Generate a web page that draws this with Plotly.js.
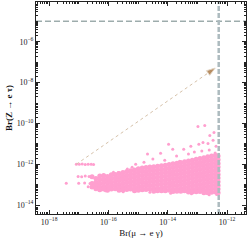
<!DOCTYPE html>
<html><head><meta charset="utf-8">
<script src="https://cdn.plot.ly/plotly-3.0.1.min.js"></script>
<style>html,body{margin:0;padding:0;background:#fff}#c{width:249px;height:241px}</style>
</head><body><div id="c"></div>
<script>
// log10 values
const xTickExp = [-18, -16, -14, -12];
const yTickExp = [-14, -12, -10, -8, -6];
const xRangeExp = [-18.44, -11.36];
const yRangeExp = [-14.44, -4.05];
const zLimitExp = -4.99;      // horizontal dashed limit on Br(Z -> e tau)
const megLimitExp = -12.28;   // vertical dashed limit on Br(mu -> e gamma)
const arrowXExp = [-17.08, -12.40];
const arrowYExp = [-12.00, -7.29];

const sparseX = [-17.08,-16.98,-16.88,-16.78,-16.68,-16.58,-16.50,
  -17.42,-17.02,-16.90,-16.78,-16.65,-17.00,-16.80,-16.62,-16.68,
  -15.83,-15.67,-15.36,-15.08,-15.20,-14.68,-14.24,-13.97,-13.83,-13.46,-13.22,-12.95,-12.81,-12.64,-12.47,-12.37,
  -12.98,-12.75,-12.44,-12.58,-14.50,-14.10,-13.70,-13.30,-13.10,-12.85,-12.60,-12.40,-14.80,-13.60,
  -15.50,-14.60,-13.90,-13.20,-12.60,-12.35,-16.10];
const sparseY = [-12.00,-12.00,-11.99,-12.01,-12.00,-12.00,-12.01,
  -12.93,-12.60,-12.62,-12.58,-12.60,-12.93,-12.92,-12.95,-13.10,
  -12.39,-12.40,-12.24,-12.00,-12.15,-11.50,-11.46,-11.02,-11.27,-11.27,-11.12,-11.02,-10.93,-10.98,-10.83,-11.12,
  -10.15,-10.10,-10.44,-10.59,-11.75,-11.80,-11.60,-11.50,-11.40,-11.35,-11.30,-11.45,-11.90,-11.85,
  -13.35,-13.38,-13.42,-13.45,-13.50,-13.48,-13.30];

const denseColX = [-16.55,-16.42,-16.29,-16.16,-16.03,-15.90,-15.77,-15.64,-15.51,-15.38,-15.25,-15.12,-14.99,-14.86,-14.73,-14.60,-14.47,-14.34,-14.21,-14.08,-13.95,-13.82,-13.69,-13.56,-13.43,-13.30,-13.17,-13.04,-12.91,-12.78,-12.65,-12.52,-12.39,-12.30];
const denseColY = [
 [-12.62,-12.95,-13.12],
 [-12.70,-12.88,-13.05,-13.20],
 [-12.58,-12.76,-12.94,-13.12,-13.25],
 [-12.55,-12.73,-12.90,-13.08,-13.22],
 [-12.60,-12.78,-12.95,-13.13,-13.27],
 [-12.52,-12.70,-12.88,-13.05,-13.22],
 [-12.50,-12.68,-12.86,-13.03,-13.20],
 [-12.45,-12.63,-12.80,-12.98,-13.15,-13.28],
 [-12.40,-12.58,-12.76,-12.94,-13.12,-13.26],
 [-12.36,-12.54,-12.72,-12.90,-13.08,-13.24],
 [-12.32,-12.50,-12.68,-12.86,-13.04,-13.22],
 [-12.28,-12.46,-12.64,-12.82,-13.00,-13.18,-13.30],
 [-12.22,-12.40,-12.58,-12.76,-12.94,-13.12,-13.28],
 [-12.18,-12.36,-12.54,-12.72,-12.90,-13.08,-13.25],
 [-12.16,-12.34,-12.52,-12.70,-12.88,-13.06,-13.24],
 [-12.14,-12.32,-12.50,-12.68,-12.86,-13.04,-13.22],
 [-12.12,-12.30,-12.48,-12.66,-12.84,-13.02,-13.20,-13.32],
 [-12.10,-12.28,-12.46,-12.64,-12.82,-13.00,-13.18,-13.30],
 [-12.08,-12.26,-12.44,-12.62,-12.80,-12.98,-13.16,-13.30],
 [-12.05,-12.23,-12.41,-12.59,-12.77,-12.95,-13.13,-13.30],
 [-12.02,-12.20,-12.38,-12.56,-12.74,-12.92,-13.10,-13.28],
 [-11.98,-12.16,-12.34,-12.52,-12.70,-12.88,-13.06,-13.24,-13.34],
 [-11.95,-12.13,-12.31,-12.49,-12.67,-12.85,-13.03,-13.21,-13.33],
 [-11.92,-12.10,-12.28,-12.46,-12.64,-12.82,-13.00,-13.18,-13.32],
 [-11.88,-12.06,-12.24,-12.42,-12.60,-12.78,-12.96,-13.14,-13.30],
 [-11.84,-12.02,-12.20,-12.38,-12.56,-12.74,-12.92,-13.10,-13.28,-13.36],
 [-11.80,-11.98,-12.16,-12.34,-12.52,-12.70,-12.88,-13.06,-13.24,-13.36],
 [-11.76,-11.94,-12.12,-12.30,-12.48,-12.66,-12.84,-13.02,-13.20,-13.35],
 [-11.72,-11.90,-12.08,-12.26,-12.44,-12.62,-12.80,-12.98,-13.16,-13.34],
 [-11.68,-11.86,-12.04,-12.22,-12.40,-12.58,-12.76,-12.94,-13.12,-13.30,-13.40],
 [-11.64,-11.82,-12.00,-12.18,-12.36,-12.54,-12.72,-12.90,-13.08,-13.26,-13.40],
 [-11.60,-11.78,-11.96,-12.14,-12.32,-12.50,-12.68,-12.86,-13.04,-13.22,-13.38],
 [-11.56,-11.74,-11.92,-12.10,-12.28,-12.46,-12.64,-12.82,-13.00,-13.18,-13.36],
 [-11.60,-11.78,-11.96,-12.14,-12.32,-12.50,-12.68,-12.86,-13.04,-13.22,-13.40]
];

const p10 = v => Math.pow(10, v);
const sup = e => '10<sup>\u2212' + Math.abs(e) + '</sup>';

const dX = [], dY = [];
denseColX.forEach((x, i) => denseColY[i].forEach(y => { dX.push(p10(x)); dY.push(p10(y)); }));

const pink = '#ff9fcf';
const FONT = 'Liberation Serif, Times New Roman, serif';

const traces = [
  {x: dX, y: dY, type: 'scatter', mode: 'markers', marker: {color: pink, size: 5}, hoverinfo: 'skip'},
  {x: sparseX.map(p10), y: sparseY.map(p10), type: 'scatter', mode: 'markers', marker: {color: pink, size: 3}, hoverinfo: 'skip'},
  {x: arrowXExp.map(p10), y: arrowYExp.map(p10), type: 'scatter', mode: 'lines+markers',
   line: {color: '#d6c2aa', width: 1, dash: 'dot'},
   marker: {symbol: 'arrow', angleref: 'previous', size: [0, 9], color: '#9a5d20'}, hoverinfo: 'skip'},
  {x: xRangeExp.map(p10), y: [zLimitExp, zLimitExp].map(p10), type: 'scatter', mode: 'lines',
   line: {color: '#4a6665', width: 0.8, dash: '6px,3px'}, hoverinfo: 'skip'},
  {x: [megLimitExp, megLimitExp].map(p10), y: yRangeExp.map(p10), type: 'scatter', mode: 'lines',
   line: {color: '#adbbbf', width: 2.5, dash: '5px,2px'}, hoverinfo: 'skip'}
];

const axisCommon = {
  type: 'log', showline: true, linecolor: '#222', linewidth: 1, mirror: 'allticks',
  ticks: 'inside', ticklen: 4, tickcolor: '#222', showgrid: false, zeroline: false,
  tickfont: {family: FONT, size: 8, color: '#222'},
  minor: {ticks: 'inside', ticklen: 2, tickcolor: '#222', dtick: 'D1', showgrid: false}
};

const layout = {
  width: 249, height: 241,
  margin: {l: 36, r: 3, t: 2, b: 27},
  paper_bgcolor: '#fff', plot_bgcolor: '#fff', showlegend: false,
  xaxis: Object.assign({}, axisCommon, {
    range: xRangeExp,
    tickvals: xTickExp.map(p10), ticktext: xTickExp.map(sup),
    title: {text: 'Br(\u03bc \u2192 e \u03b3)', font: {family: FONT, size: 9, color: '#111'}, standoff: 4}
  }),
  yaxis: Object.assign({}, axisCommon, {
    range: yRangeExp,
    tickvals: yTickExp.map(p10), ticktext: yTickExp.map(sup),
    title: {text: '<b>Br(Z \u2192 e \u03c4)</b>', font: {family: FONT, size: 9, color: '#111'}, standoff: 2}
  })
};

Plotly.newPlot('c', traces, layout, {staticPlot: true, displayModeBar: false});
</script>
</body></html>
